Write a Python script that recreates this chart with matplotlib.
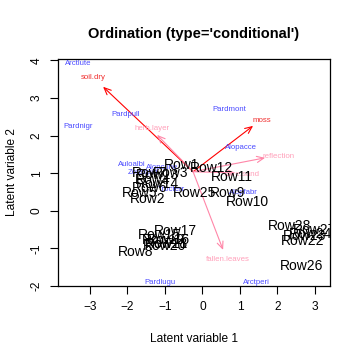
import matplotlib
matplotlib.use("Agg")
import matplotlib.pyplot as plt

plt.rcParams['font.family'] = ['Liberation Sans', 'DejaVu Sans']

# site scores (latent variable 1, latent variable 2)
row_names = ["Row%d" % i for i in range(1, 29)]
lv1 = [-0.57, -1.47, -0.84, -1.33, -1.67, -1.40, -1.40, -1.77, 0.68, 1.21,
       0.79, 0.25, -1.20, -1.21, -1.14, -0.90, -0.73, -0.97, -1.05, -1.00,
       -0.95, 2.68, 2.73, 2.87, -0.20, 2.65, 2.99, 2.33]
lv2 = [1.22, 0.32, 1.01, 0.82, 0.48, 0.61, 1.01, -1.09, 0.48, 0.24,
       0.90, 1.14, 0.95, 0.72, -0.64, -0.78, -0.53, -0.87, -0.77, -0.93,
       -0.88, -0.80, -0.66, -0.61, 0.48, -1.46, -0.50, -0.40]

# species scores
species = ["Arctlute", "Pardnigr", "Pardpull", "Pardmont", "Alopacce", "Auloalbi",
           "Alopcune", "Zoraspin", "Trocterr", "Alopfabr", "Pardlugu", "Arctperi"]
sp_lv1 = [-3.32, -3.32, -2.04, 0.71, 1.03, -1.88, -1.08, -1.59, -0.84, 1.08, -1.13, 1.43]
sp_lv2 = [3.91, 2.23, 2.55, 2.69, 1.68, 1.22, 1.14, 1.01, 0.56, 0.50, -1.91, -1.91]

# environmental arrows
env = ["soil.dry", "herb.layer", "moss", "reflection", "bare.sand", "fallen.leaves"]
env_tip_x = [-2.65, -1.21, 1.35, 1.67, 0.87, 0.55]
env_tip_y = [3.30, 2.02, 2.26, 1.41, 1.01, -1.04]
env_lab_x = [-2.92, -1.35, 1.59, 2.03, 1.06, 0.68]
env_lab_y = [3.54, 2.18, 2.39, 1.45, 0.96, -1.30]
env_signif = [True, False, True, False, False, False]
origin = (-0.25, 1.04)

fig = plt.figure(figsize=(3.6, 3.6), dpi=100)
ax = fig.add_axes([0.161, 0.2056, 0.7556, 0.6306])
ax.set_xlim(-3.853, 3.4)
ax.set_ylim(-1.995, 4.04)

for i in range(len(env)):
    col = 'red' if env_signif[i] else '#FF86A8'
    lcol = '#F03030' if env_signif[i] else '#FFA0BA'
    ax.annotate("", xy=(env_tip_x[i], env_tip_y[i]), xytext=origin,
                arrowprops=dict(arrowstyle='->,head_length=0.5,head_width=0.22',
                                color=col, lw=0.8, shrinkA=0, shrinkB=0))
    ax.text(env_lab_x[i], env_lab_y[i], env[i], color=lcol, fontsize=5.7,
            ha='center', va='center', clip_on=True)

for i in range(len(species)):
    ax.text(sp_lv1[i], sp_lv2[i], species[i], color='#4B4BFF', fontsize=5.6,
            ha='center', va='center', clip_on=True)

for i in range(len(row_names)):
    ax.text(lv1[i], lv2[i], row_names[i], color='black', fontsize=10,
            ha='center', va='center', clip_on=True)

ax.set_xticks([-3, -2, -1, 0, 1, 2, 3])
ax.set_yticks([-2, -1, 0, 1, 2, 3, 4])
ax.set_yticklabels(['-2', '-1', '0', '1', '2', '3', '4'], rotation=90, va='center')
ax.tick_params(labelsize=8.6, length=6, width=0.8, pad=5)
for s in ax.spines.values():
    s.set_linewidth(0.9)

ax.set_xlabel('Latent variable 1', fontsize=8.6, labelpad=14)
ax.set_ylabel('Latent variable 2', fontsize=8.6, labelpad=9)
ax.set_title("Ordination (type='conditional')", fontsize=10.5, fontweight='bold', pad=15)

fig.savefig('out.png', dpi=100)
